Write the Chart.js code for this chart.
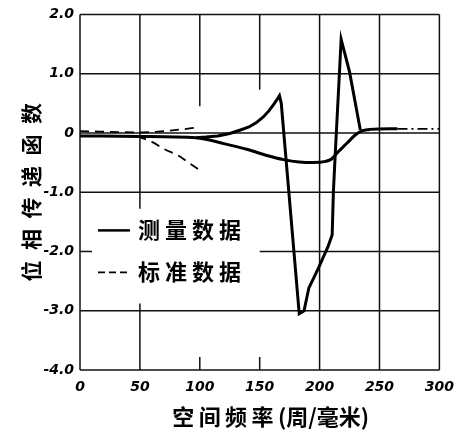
<!DOCTYPE html>
<html>
<head>
<meta charset="utf-8">
<script src="https://cdn.jsdelivr.net/npm/chart.js@4"></script>
<style>
  html, body { margin: 0; padding: 0; background: #fff; }
  #wrap { width: 463px; height: 433px; }
</style>
</head>
<body>
<div id="wrap"><canvas id="myChart" width="463" height="433"></canvas></div>
<script>
// data (x: 周/毫米, y: 位相传递函数)
const xTicks = [0, 50, 100, 150, 200, 250, 300];
const yTicks = [2, 1, 0, -1, -2, -3, -4];

// 测量数据 - lower branch
const measuredLow = [
  [0, -0.05], [50, -0.06], [97, -0.08], [120, -0.18], [140, -0.28], [156, -0.38],
  [170, -0.45], [183, -0.49], [195, -0.5], [205, -0.48], [210, -0.44], [215, -0.33],
  [223, -0.17], [230, -0.03], [236, 0.04], [242, 0.06], [265, 0.07]
];
// 测量数据 - upper branch (peak, drop, second peak)
const measuredHigh = [
  [97, -0.08], [105, -0.07], [115, -0.05], [125, -0.01], [134, 0.05], [141, 0.1],
  [147, 0.17], [153, 0.27], [158, 0.38], [162, 0.49], [165, 0.58], [166.5, 0.63],
  [168, 0.5], [183, -3.05], [187, -3.0], [191, -2.62], [199, -2.28],
  [207, -1.92], [210.5, -1.72], [211.5, -1.0], [213, -0.38], [218, 1.58], [225, 1.03],
  [234, 0.05]
];
// extension beyond the data (dash-dot)
const measuredTail = [[265, 0.07], [300, 0.07]];

// 标准数据 - two dashed branches
const standardUp = [[0, 0.03], [50, 0.01], [70, 0.03], [85, 0.06], [97, 0.09]];
const standardDown = [[48, -0.06], [60, -0.15], [71, -0.28], [82, -0.38], [92, -0.52], [100, -0.63]];

// hand drawn grid has gaps around the legend
const vGrid = [[0, -4, 2], [50, -1.28, 2], [50, -4, -2.88], [100, 0.45, 2], [100, -4, -3.78],
  [150, 0.73, 2], [150, -4, -3.78], [200, -4, 2], [250, -4, 2], [300, -4, 2]];
const hGrid = [[2, 0, 300], [1, 0, 300], [0, 0, 300], [-1, 0, 300], [-2, 0, 10], [-2, 150, 300],
  [-3, 0, 300], [-4, 0, 300]];

const toPts = arr => arr.map(p => ({ x: p[0], y: p[1] }));

const gridPlugin = {
  id: "handGrid",
  beforeDatasetsDraw(chart) {
    const { ctx, scales: { x, y } } = chart;
    ctx.save();
    ctx.strokeStyle = "#111";
    ctx.lineWidth = 1.5;
    vGrid.forEach(g => {
      ctx.beginPath();
      ctx.moveTo(x.getPixelForValue(g[0]), y.getPixelForValue(g[1]));
      ctx.lineTo(x.getPixelForValue(g[0]), y.getPixelForValue(g[2]));
      ctx.stroke();
    });
    hGrid.forEach(g => {
      ctx.beginPath();
      ctx.moveTo(x.getPixelForValue(g[1]), y.getPixelForValue(g[0]));
      ctx.lineTo(x.getPixelForValue(g[2]), y.getPixelForValue(g[0]));
      ctx.stroke();
    });
    ctx.restore();
  },
};

const legendPlugin = {
  id: "innerLegend",
  afterDatasetsDraw(chart) {
    const { ctx, chartArea: a } = chart;
    const rows = [
      { label: "测 量 数 据", dash: [], width: 2.5, dy: 216 },
      { label: "标 准 数 据", dash: [7, 4], width: 1.8, dy: 258 },
    ];
    ctx.save();
    ctx.strokeStyle = "#000";
    ctx.fillStyle = "#000";
    ctx.font = "bold 22px 'Noto Sans CJK SC'";
    ctx.textBaseline = "middle";
    rows.forEach(r => {
      const yy = a.top + r.dy;
      ctx.setLineDash(r.dash);
      ctx.lineWidth = r.width;
      ctx.beginPath();
      ctx.moveTo(a.left + 18, yy);
      ctx.lineTo(a.left + 50, yy);
      ctx.stroke();
      ctx.fillText(r.label, a.left + 58, yy - 1);
    });
    ctx.restore();
  },
};

const tickFont = { family: "'DejaVu Sans'", size: 14, style: "italic", weight: "bold" };

new Chart(document.getElementById("myChart"), {
  type: "scatter",
  data: {
    datasets: [
      { label: "测量数据", data: toPts(measuredLow), showLine: true, borderColor: "#000",
        borderWidth: 3, pointRadius: 0, cubicInterpolationMode: "monotone" },
      { label: "测量数据", data: toPts(measuredHigh), showLine: true, borderColor: "#000",
        borderWidth: 3, pointRadius: 0, tension: 0 },
      { label: "", data: toPts(measuredTail), showLine: true, borderColor: "#000",
        borderWidth: 1.8, borderDash: [10, 4, 2, 4], pointRadius: 0 },
      { label: "标准数据", data: toPts(standardUp), showLine: true, borderColor: "#000",
        borderWidth: 1.8, borderDash: [9, 6], pointRadius: 0, cubicInterpolationMode: "monotone" },
      { label: "标准数据", data: toPts(standardDown), showLine: true, borderColor: "#000",
        borderWidth: 1.8, borderDash: [9, 6], pointRadius: 0, cubicInterpolationMode: "monotone" },
    ],
  },
  options: {
    responsive: false,
    animation: false,
    layout: { padding: { top: 10, right: 17, left: 0, bottom: 0 } },
    plugins: { legend: { display: false }, tooltip: { enabled: false } },
    scales: {
      x: {
        type: "linear",
        min: 0,
        max: 300,
        afterBuildTicks: s => { s.ticks = xTicks.map(v => ({ value: v })); },
        afterFit: s => { s.height = 63; },
        grid: { display: false, drawTicks: false },
        border: { display: false },
        ticks: { color: "#000", font: tickFont, padding: 9, maxRotation: 0 },
        title: {
          display: true,
          text: "\u2003空\u2009间\u2009频\u2009率\u2009(周/毫米)",
          color: "#000",
          font: { family: "'Noto Sans CJK SC'", size: 22, weight: "bold" },
          padding: { top: 0, bottom: 3 },
        },
      },
      y: {
        type: "linear",
        min: -4,
        max: 2,
        afterBuildTicks: s => { s.ticks = yTicks.map(v => ({ value: v })); },
        afterFit: s => { s.width = 80; },
        grid: { display: false, drawTicks: false },
        border: { display: false },
        ticks: {
          color: "#000",
          font: tickFont,
          padding: 6,
          callback: v => (v === 0 ? "0" : v.toFixed(1)),
        },
        title: {
          display: true,
          text: "位\u2002相\u2002传\u2002递\u2002函\u2002数",
          color: "#000",
          font: { family: "'Noto Sans CJK SC'", size: 21, weight: "bold" },
          padding: { top: 18, bottom: 0 },
        },
      },
    },
  },
  plugins: [gridPlugin, legendPlugin],
});
</script>
</body>
</html>
